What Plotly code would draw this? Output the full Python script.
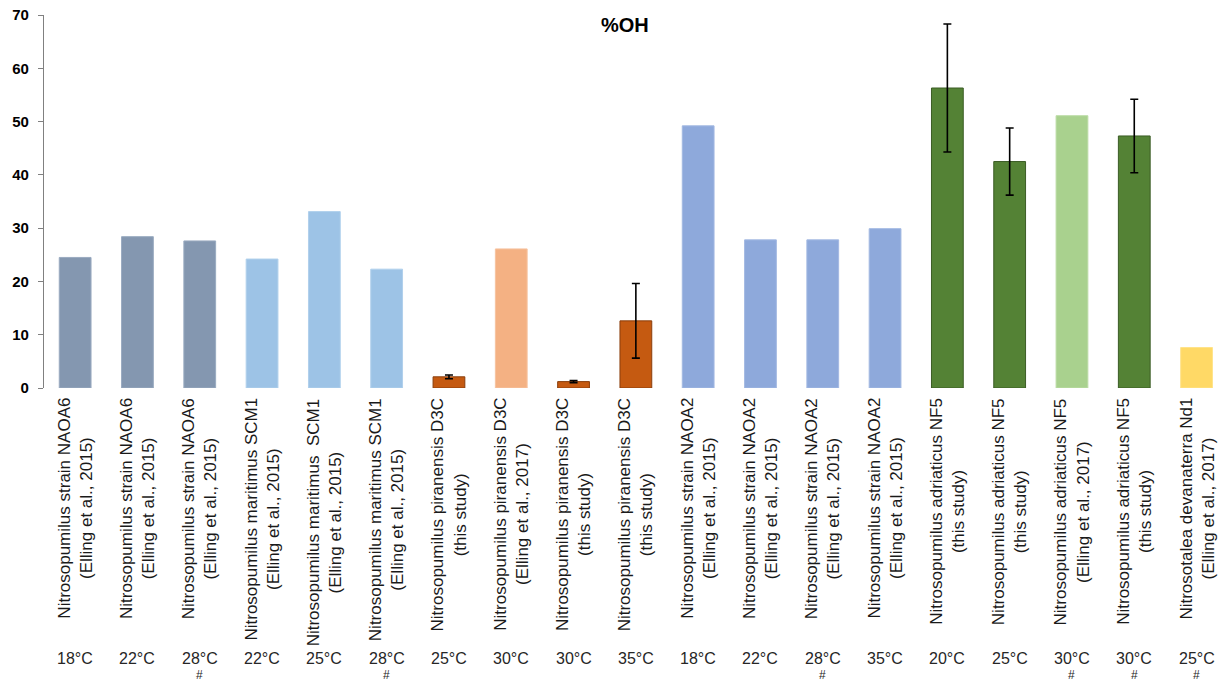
import plotly.graph_objects as go

species = [
    "Nitrosopumilus strain NAOA6", "Nitrosopumilus strain NAOA6", "Nitrosopumilus strain NAOA6",
    "Nitrosopumilus maritimus SCM1", "Nitrosopumilus maritimus  SCM1", "Nitrosopumilus maritimus SCM1",
    "Nitrosopumilus piranensis D3C", "Nitrosopumilus piranensis D3C", "Nitrosopumilus piranensis D3C",
    "Nitrosopumilus piranensis D3C",
    "Nitrosopumilus strain NAOA2", "Nitrosopumilus strain NAOA2", "Nitrosopumilus strain NAOA2",
    "Nitrosopumilus strain NAOA2",
    "Nitrosopumilus adriaticus NF5", "Nitrosopumilus adriaticus NF5", "Nitrosopumilus adriaticus NF5",
    "Nitrosopumilus adriaticus NF5",
    "Nitrosotalea devanaterra Nd1",
]
refs = [
    "(Elling et al., 2015)", "(Elling et al., 2015)", "(Elling et al., 2015)",
    "(Elling et al., 2015)", "(Elling et al., 2015)", "(Elling et al., 2015)",
    "(this study)", "(Elling et al., 2017)", "(this study)", "(this study)",
    "(Elling et al., 2015)", "(Elling et al., 2015)", "(Elling et al., 2015)", "(Elling et al., 2015)",
    "(this study)", "(this study)", "(Elling et al., 2017)", "(this study)",
    "(Elling et al., 2017)",
]
temps = ["18°C", "22°C", "28°C", "22°C", "25°C", "28°C", "25°C", "30°C", "30°C", "35°C",
         "18°C", "22°C", "28°C", "35°C", "20°C", "25°C", "30°C", "30°C", "25°C"]
marks = ["", "", "#", "", "", "#", "", "", "", "", "", "", "#", "", "", "", "#", "#", "#"]

values = [24.5, 28.4, 27.6, 24.2, 33.1, 22.3, 2.1, 26.1, 1.2, 12.6,
          49.2, 27.8, 27.8, 29.9, 56.3, 42.5, 51.1, 47.3, 7.6]
errors = [None, None, None, None, None, None, 0.35, None, 0.2, 7.0,
          None, None, None, None, 12.0, 6.3, None, 6.9, None]

fill_colors = ["#8497B0", "#8497B0", "#8497B0", "#9DC3E6", "#9DC3E6", "#9DC3E6",
               "#C55A11", "#F4B183", "#C55A11", "#C55A11",
               "#8EA9DB", "#8EA9DB", "#8EA9DB", "#8EA9DB",
               "#548235", "#548235", "#A9D18E", "#548235", "#FFD966"]
line_colors = ["#9aabc0", "#9aabc0", "#9aabc0", "#b0d0ec", "#b0d0ec", "#b0d0ec",
               "#8a3e0c", "#f6c3a0", "#8a3e0c", "#8a3e0c",
               "#a3b9e2", "#a3b9e2", "#a3b9e2", "#a3b9e2",
               "#3b5c25", "#3b5c25", "#bcdca6", "#3b5c25", "#ffe38a"]

idx = list(range(len(values)))

fig = go.Figure()
fig.add_trace(go.Bar(
    x=idx, y=values,
    marker=dict(color=fill_colors, line=dict(color=line_colors, width=1)),
    width=0.51, showlegend=False, hoverinfo="y",
))

err_x = [i for i in idx if errors[i] is not None]
err_y = [values[i] for i in err_x]
err_v = [errors[i] for i in err_x]
fig.add_trace(go.Scatter(
    x=err_x, y=err_y, mode="markers", marker=dict(size=1, color="rgba(0,0,0,0)"),
    error_y=dict(type="data", array=err_v, color="#000000", thickness=1.6, width=4),
    showlegend=False, hoverinfo="skip",
))

H = 682
top_m, bot_m = 15, 294
plot_h = H - top_m - bot_m

def py(pix):
    return (H - bot_m - pix) / plot_h

FONT = "Liberation Sans, Arial, sans-serif"
annotations = []
for i in idx:
    annotations.append(dict(
        x=i, y=py(396), xref="x", yref="paper",
        text=species[i] + "<br>" + refs[i], textangle=-90,
        showarrow=False, xanchor="center", yanchor="top", align="center",
        font=dict(family=FONT, size=17, color="#1a1a1a"),
    ))
    annotations.append(dict(
        x=i, y=py(658), xref="x", yref="paper",
        text=temps[i], showarrow=False, xanchor="center", yanchor="middle",
        borderpad=0,
        font=dict(family=FONT, size=16, color="#262626"),
    ))
    if marks[i]:
        annotations.append(dict(
            x=i, y=py(675), xref="x", yref="paper",
            text=marks[i], showarrow=False, xanchor="center", yanchor="middle",
            borderpad=0,
            font=dict(family=FONT, size=12, color="#262626"),
        ))

annotations.append(dict(
    x=(625 - 44) / (1219 - 44), y=py(25), xref="paper", yref="paper",
    text="<b>%OH</b>", showarrow=False, xanchor="center", yanchor="middle",
    font=dict(family=FONT, size=20, color="#000000"),
))

fig.update_layout(
    width=1219, height=682,
    margin=dict(l=44, r=0, t=top_m, b=bot_m),
    paper_bgcolor="white", plot_bgcolor="white",
    annotations=annotations,
    xaxis=dict(range=[-0.5, 18.36], showticklabels=False, showgrid=False,
               zeroline=False, showline=False, ticks=""),
    yaxis=dict(range=[0, 70], showgrid=False, zeroline=False,
               showline=True, linecolor="#808080", linewidth=1.3,
               ticks="outside", ticklen=5, tickcolor="#808080", tickwidth=1.3,
               tickfont=dict(family=FONT, size=15, color="#000000"),
               ticklabelstandoff=6,
               tickvals=[0, 10, 20, 30, 40, 50, 60, 70],
               ticktext=["<b>%d</b>" % v for v in [0, 10, 20, 30, 40, 50, 60, 70]]),
    font=dict(family=FONT),
)

fig.write_html("out.html")
